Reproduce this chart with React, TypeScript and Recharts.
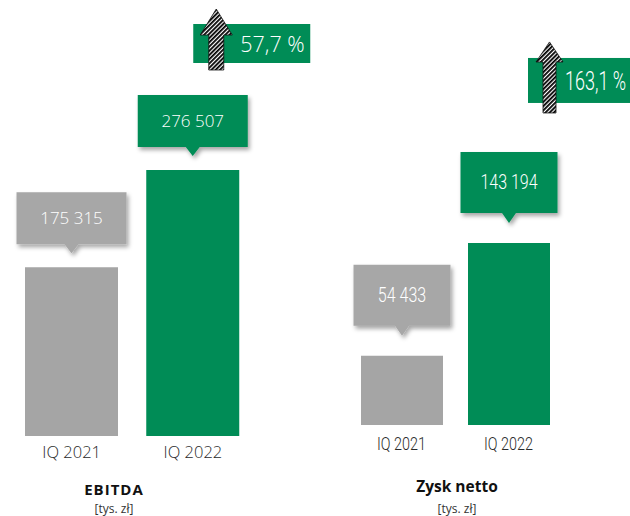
import React from "react";
import { BarChart, Bar, XAxis, YAxis, Cell } from "recharts";

const QUARTERS = ["IQ 2021", "IQ 2022"];
const EBITDA = [175315, 276507];
const NET_PROFIT = [54433, 143194];
const PANEL_TITLES = ["EBITDA", "Zysk netto"];
const UNIT_LABEL = "[tys. zł]";

const GREY = "#a5a5a5";
const GREEN = "#008c56";
const COLORS = [GREY, GREEN];

const WIDE_FONT = "'Open Sans', sans-serif";
const NARROW_FONT = "Roboto, sans-serif";

const fmtThousands = (v: number) => String(v).replace(/\B(?=(\d{3})+(?!\d))/g, " ");
const fmtGrowth = (a: number, b: number) => ((b / a - 1) * 100).toFixed(1).replace(".", ",") + " %";

// text squeezed horizontally round its anchor point (the right panel uses a condensed face)
function SText({ x, y, sx, children, ...rest }: any) {
  return (
    <text transform={`translate(${x},${y}) scale(${sx},1)`} x={0} y={0} {...rest}>
      {children}
    </text>
  );
}

interface PanelStyle {
  font: string;
  weight: number;
  squeeze: number;
  tickSize: number;
  tickDy: number;
  callW: number;
  callH: number;
  callGap: number;
  callTip: number;
  callFont: number;
  callDy: number;
  badge: {
    dx: number; up: number; w: number; h: number;
    arrowDx: number; arrowUp: number; headW: number; headH: number; shaftW: number; arrowLen: number;
    textDx: number; textDy: number; fontSize: number; squeeze: number;
  };
}

const LEFT_STYLE: PanelStyle = {
  font: WIDE_FONT,
  weight: 300,
  squeeze: 1,
  tickSize: 16.5,
  tickDy: 14,
  callW: 110,
  callH: 52,
  callGap: 23,
  callTip: 9,
  callFont: 17,
  callDy: 6,
  badge: {
    dx: 47, up: 146, w: 117, h: 39,
    arrowDx: 70, arrowUp: 161, headW: 32, headH: 26, shaftW: 15, arrowLen: 61,
    textDx: 94, textDy: 28, fontSize: 21.5, squeeze: 1,
  },
};

const RIGHT_STYLE: PanelStyle = {
  font: NARROW_FONT,
  weight: 300,
  squeeze: 0.8,
  tickSize: 18,
  tickDy: 17,
  callW: 97,
  callH: 61,
  callGap: 30,
  callTip: 10,
  callFont: 20,
  callDy: 7,
  badge: {
    dx: 60, up: 185, w: 110, h: 45,
    arrowDx: 81.5, arrowUp: 201, headW: 27, headH: 20, shaftW: 13, arrowLen: 71,
    textDx: 97, textDy: 32, fontSize: 25, squeeze: 0.72,
  },
};

function makeLabel(style: PanelStyle, growth: string) {
  return (props: any) => {
    const x = Number(props.x);
    const y = Number(props.y);
    const w = Number(props.width);
    const idx = props.index;
    const cx = x + w / 2;
    const bottom = y - style.callGap;
    const top = bottom - style.callH;
    const l = cx - style.callW / 2;
    const r = cx + style.callW / 2;
    const path = `M${l},${top} H${r} V${bottom} H${cx + 7} L${cx},${bottom + style.callTip} L${cx - 7},${bottom} H${l} Z`;
    const b = style.badge;
    let badge = null;
    if (idx === 1) {
      const ax = x + b.arrowDx;
      const tip = y - b.arrowUp;
      const hb = tip + b.headH;
      const end = tip + b.arrowLen;
      const arrow = `M${ax},${tip} L${ax + b.headW / 2},${hb} H${ax + b.shaftW / 2} V${end} H${ax - b.shaftW / 2} V${hb} H${ax - b.headW / 2} Z`;
      const ry = y - b.up;
      badge = (
        <g>
          <rect x={x + b.dx} y={ry} width={b.w} height={b.h} fill={GREEN} />
          <path d={arrow} fill="url(#hatch)" stroke="#111" strokeWidth={0.8} />
          <SText x={x + b.textDx} y={ry + b.textDy} sx={b.squeeze} fontFamily={style.font} fontWeight={style.weight} fontSize={b.fontSize} fill="#fff">
            {growth}
          </SText>
        </g>
      );
    }
    return (
      <g>
        <path d={path} fill={idx === 1 ? GREEN : "#a7a7a7"} filter="url(#callShadow)" />
        <SText x={cx} y={top + style.callH / 2 + style.callDy} sx={style.squeeze} textAnchor="middle" fontFamily={style.font} fontWeight={style.weight} fontSize={style.callFont} fill="#fff">
          {fmtThousands(Number(props.value))}
        </SText>
        {badge}
      </g>
    );
  };
}

function makeTick(style: PanelStyle) {
  return (props: any) => (
    <SText x={props.x} y={props.y + style.tickDy} sx={style.squeeze} textAnchor="middle" fontFamily={style.font} fontWeight={style.weight} fontSize={style.tickSize} fill="#2a2a2a">
      {props.payload.value}
    </SText>
  );
}

interface PanelProps {
  values: number[];
  style: PanelStyle;
  width: number;
  height: number;
  left: number;
  margin: { top: number; right: number; bottom: number; left: number };
  yMax: number;
  barSize: number;
}

function Panel({ values, style, width, height, left, margin, yMax, barSize }: PanelProps) {
  const data = QUARTERS.map((q, i) => ({ quarter: q, value: values[i] }));
  return (
    <div style={{ position: "absolute", left, top: 0 }}>
      <BarChart width={width} height={height} data={data} margin={margin} style={{ overflow: "visible" }}>
        <XAxis dataKey="quarter" axisLine={false} tickLine={false} height={22} interval={0} tick={makeTick(style)} />
        <YAxis hide domain={[0, yMax]} />
        <Bar dataKey="value" barSize={barSize} isAnimationActive={false} label={makeLabel(style, fmtGrowth(values[0], values[1]))}>
          {data.map((d, i) => (
            <Cell key={d.quarter} fill={COLORS[i]} />
          ))}
        </Bar>
      </BarChart>
    </div>
  );
}

export default function App() {
  return (
    <div style={{ position: "absolute", left: 0, top: 0, width: 630, height: 516, overflow: "hidden", background: "#fff" }}>
      <svg width={630} height={516} style={{ position: "absolute", left: 0, top: 0 }}>
        <defs>
          <pattern id="hatch" patternUnits="userSpaceOnUse" width={3} height={3} patternTransform="rotate(45)">
            <rect width={3} height={3} fill="#fff" />
            <rect width={1.8} height={3} fill="#000" />
          </pattern>
          <filter id="callShadow" x="-20%" y="-20%" width="140%" height="160%">
            <feDropShadow dx={2} dy={3} stdDeviation={2} floodColor="#000" floodOpacity={0.35} />
          </filter>
        </defs>
        <text x={114} y={495} textAnchor="middle" fontFamily={WIDE_FONT} fontWeight={700} fontSize={15} letterSpacing={1} fill="#111">
          {PANEL_TITLES[0]}
        </text>
        <text x={114} y={513} textAnchor="middle" fontFamily={WIDE_FONT} fontSize={12} fill="#333">
          {UNIT_LABEL}
        </text>
        <text x={457} y={492} textAnchor="middle" fontFamily={WIDE_FONT} fontWeight={700} fontSize={15.5} fill="#111">
          {PANEL_TITLES[1]}
        </text>
        <text x={457} y={513} textAnchor="middle" fontFamily={WIDE_FONT} fontSize={12} fill="#333">
          {UNIT_LABEL}
        </text>
      </svg>
      <Panel
        values={EBITDA}
        style={LEFT_STYLE}
        width={330}
        height={516}
        left={0}
        margin={{ top: 147.4, right: 76.5, bottom: 58, left: 11 }}
        yMax={300000}
        barSize={93}
      />
      <Panel
        values={NET_PROFIT}
        style={RIGHT_STYLE}
        width={300}
        height={516}
        left={330}
        margin={{ top: 221.6, right: 68, bottom: 69, left: 18 }}
        yMax={160000}
        barSize={82}
      />
    </div>
  );
}
